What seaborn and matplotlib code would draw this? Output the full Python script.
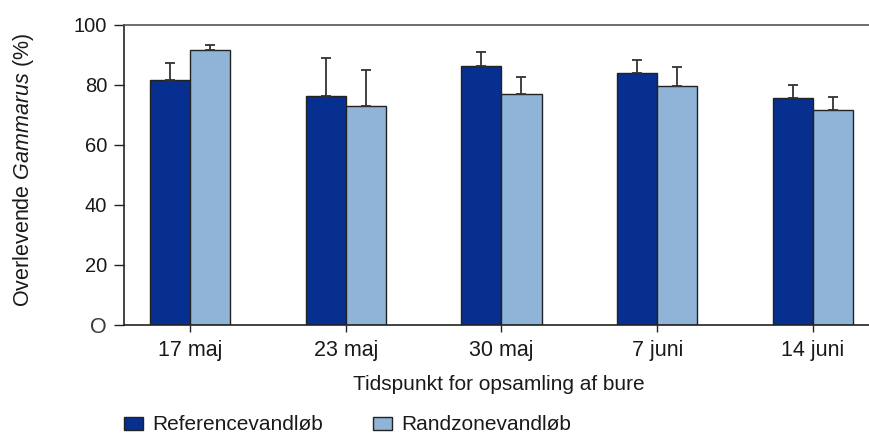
import matplotlib
matplotlib.use("Agg")
import matplotlib.pyplot as plt
import seaborn as sns
import pandas as pd
import numpy as np
from matplotlib.patches import Patch

categories = ["17 maj", "23 maj", "30 maj", "7 juni", "14 juni"]
series = ["Referencevandløb", "Randzonevandløb"]
reference = [81.6, 76.4, 86.3, 83.9, 75.7]
reference_err = [5.8, 12.5, 4.7, 4.3, 4.2]
randzone = [91.6, 73.1, 77.1, 79.8, 71.7]
randzone_err = [1.8, 11.8, 5.5, 6.3, 4.4]
yticks = [0, 20, 40, 60, 80, 100]
yticklabels = ["O", "20", "40", "60", "80", "100"]

colors = ["#062F8F", "#8FB4D7"]
txt = "#1a1a1a"

sns.set_theme(style="white")
plt.rcParams["font.family"] = ["Liberation Sans", "DejaVu Sans"]
plt.rcParams["mathtext.fontset"] = "custom"
plt.rcParams["mathtext.rm"] = "Liberation Sans"
plt.rcParams["mathtext.it"] = "Liberation Sans:italic"

df = pd.DataFrame({
    "dato": categories * 2,
    "serie": [series[0]] * 5 + [series[1]] * 5,
    "vaerdi": reference + randzone,
    "fejl": reference_err + randzone_err,
})

fig = plt.figure(figsize=(8.69, 4.34), dpi=100)
ax = fig.add_axes([124 / 869, 109 / 434, 1 - 124 / 869, 300 / 434])

sns.barplot(data=df, x="dato", y="vaerdi", hue="serie", order=categories,
            hue_order=series, palette=colors, width=0.514, errorbar=None,
            edgecolor="#222222", linewidth=1.0, saturation=1, ax=ax, legend=False)

# error bars (upper only), placed at bar centers
for i, (errs, vals) in enumerate([(reference_err, reference),
                                  (randzone_err, randzone)]):
    bars = ax.containers[i]
    xs = [b.get_x() + b.get_width() / 2 for b in bars]
    ax.errorbar(xs, vals, yerr=[np.zeros(len(errs)), errs], fmt="none",
                ecolor="#333333", elinewidth=1.3, capsize=3.6, capthick=1.3,
                zorder=1)

ax.set_xlim(-0.424, 4.36)
ax.set_ylim(0, 100)
ax.set_yticks(yticks)
ax.set_yticklabels(yticklabels)
for lab in ax.get_yticklabels():
    if lab.get_text() == "O":
        lab.set_fontsize(15.5)
        lab.set_color("#3a3a3a")
    else:
        lab.set_fontsize(14.5)
for lab in ax.get_xticklabels():
    lab.set_fontsize(15.5)

ax.tick_params(axis="y", which="both", direction="out", length=7.2, width=1,
               color="#222222", pad=5, left=True, labelcolor=txt)
ax.tick_params(axis="x", which="both", direction="out", length=5, width=1,
               color="#222222", pad=6, bottom=True, labelcolor=txt)
for lab in ax.get_yticklabels():
    if lab.get_text() == "O":
        lab.set_color("#3a3a3a")

for side in ["left", "bottom"]:
    ax.spines[side].set_color("#222222")
    ax.spines[side].set_linewidth(1.2)
ax.spines["top"].set_color("#555555")
ax.spines["top"].set_linewidth(1.2)
ax.spines["right"].set_visible(False)

ax.set_xlabel("")
ax.set_ylabel(r"Overlevende $\it{Gammarus}$ (%)", fontsize=15.5, color=txt)
ax.yaxis.set_label_coords(-0.118, 0.517)

fig.text(499 / 869, 1 - 384 / 434, "Tidspunkt for opsamling af bure",
         ha="center", va="center", fontsize=15, color=txt)

handles = [Patch(facecolor=colors[0], edgecolor="#222222", linewidth=1.0),
           Patch(facecolor=colors[1], edgecolor="#222222", linewidth=1.0)]
fig.legend(handles, series, loc="center left",
           bbox_to_anchor=(124 / 869, 1 - 425 / 434), ncol=2, frameon=False,
           fontsize=15, handlelength=0.9, handleheight=0.6,
           handletextpad=0.45, columnspacing=2.4, borderaxespad=0, borderpad=0,
           labelcolor=txt)

fig.savefig("out.png", dpi=100)
